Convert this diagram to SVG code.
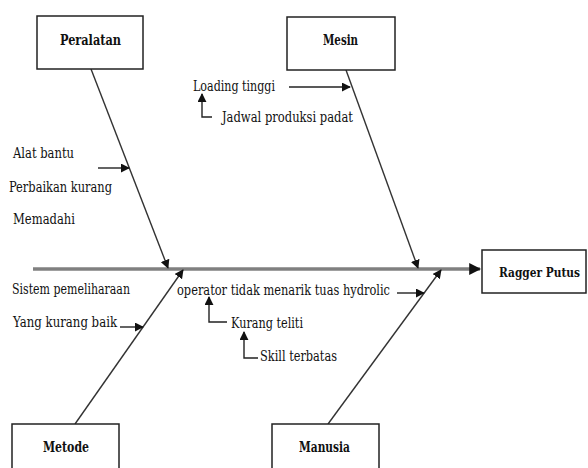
<svg xmlns="http://www.w3.org/2000/svg" width="588" height="468" viewBox="0 0 588 468">
<defs>
<marker id="ah" viewBox="0 0 10 10" refX="9" refY="5" markerWidth="9" markerHeight="9" markerUnits="userSpaceOnUse" orient="auto"><path d="M0,0 L10,5 L0,10 z" fill="#111"/></marker>
<marker id="ahs" viewBox="0 0 10 10" refX="9" refY="5" markerWidth="12" markerHeight="12" markerUnits="userSpaceOnUse" orient="auto"><path d="M0,0 L10,5 L0,10 z" fill="#111"/></marker>
</defs>
<style>
.box{fill:#fff;stroke:#222;stroke-width:1.5}
text{font-family:'DejaVu Serif Condensed','DejaVu Serif','Liberation Serif',serif;font-size:14px;fill:#111;dominant-baseline:central}
.lbl{font-weight:bold;font-size:15px}
.bone{stroke:#333;stroke-width:1.4;fill:none;marker-end:url(#ah)}
.sub{stroke:#222;stroke-width:1.4;fill:none;marker-end:url(#ah)}
</style>
<rect width="588" height="468" fill="#fff"/>
<g id="connectors">
<line x1="33" y1="269" x2="480" y2="269" stroke="#808080" stroke-width="3.5" marker-end="url(#ahs)"/>
<line class="bone" x1="91" y1="69" x2="168" y2="268"/>
<line class="bone" x1="346" y1="70" x2="418" y2="268"/>
<line class="bone" x1="75" y1="424" x2="183" y2="270"/>
<line class="bone" x1="328" y1="424" x2="441" y2="270"/>
<line class="sub" x1="98" y1="168" x2="129" y2="168"/>
<line class="sub" x1="289" y1="87" x2="350" y2="87"/>
<polyline class="sub" points="212,117 202,117 202,94"/>
<line class="sub" x1="120" y1="327" x2="143" y2="327"/>
<line class="sub" x1="397" y1="293" x2="424" y2="293"/>
<polyline class="sub" points="227,322 209,322 209,297"/>
<polyline class="sub" points="258,358 244,358 244,332"/>
</g>
<g id="peralatan"><rect class="box" x="37" y="16" width="106" height="53"/><text class="lbl" x="60" y="40" textLength="61" lengthAdjust="spacingAndGlyphs">Peralatan</text></g>
<g id="mesin"><rect class="box" x="287" y="17" width="108" height="53"/><text class="lbl" x="323" y="40" textLength="35" lengthAdjust="spacingAndGlyphs">Mesin</text></g>
<g id="ragger"><rect class="box" x="482" y="250" width="104" height="43"/><text class="lbl" x="499" y="272" style="font-size:12.5px" textLength="81" lengthAdjust="spacingAndGlyphs">Ragger Putus</text></g>
<g id="metode"><rect class="box" x="12" y="424" width="107" height="60"/><text class="lbl" x="43" y="447" textLength="46" lengthAdjust="spacingAndGlyphs">Metode</text></g>
<g id="manusia"><rect class="box" x="272" y="424" width="107" height="60"/><text class="lbl" x="299" y="447" textLength="51" lengthAdjust="spacingAndGlyphs">Manusia</text></g>
<g id="causes">
<text x="13" y="153" textLength="61" lengthAdjust="spacingAndGlyphs">Alat bantu</text>
<text x="9" y="187" textLength="103" lengthAdjust="spacingAndGlyphs">Perbaikan kurang</text>
<text x="13" y="219" textLength="62" lengthAdjust="spacingAndGlyphs">Memadahi</text>
<text x="193" y="86" textLength="82" lengthAdjust="spacingAndGlyphs">Loading tinggi</text>
<text x="222" y="117" textLength="131" lengthAdjust="spacingAndGlyphs">Jadwal produksi padat</text>
<text x="12" y="289" textLength="118" lengthAdjust="spacingAndGlyphs">Sistem pemeliharaan</text>
<text x="13" y="322" textLength="104" lengthAdjust="spacingAndGlyphs">Yang kurang baik</text>
<text x="177" y="290" textLength="213" lengthAdjust="spacingAndGlyphs">operator tidak menarik tuas hydrolic</text>
<text x="231" y="323" textLength="72" lengthAdjust="spacingAndGlyphs">Kurang teliti</text>
<text x="260" y="356" textLength="77" lengthAdjust="spacingAndGlyphs">Skill terbatas</text>
</g>
</svg>
